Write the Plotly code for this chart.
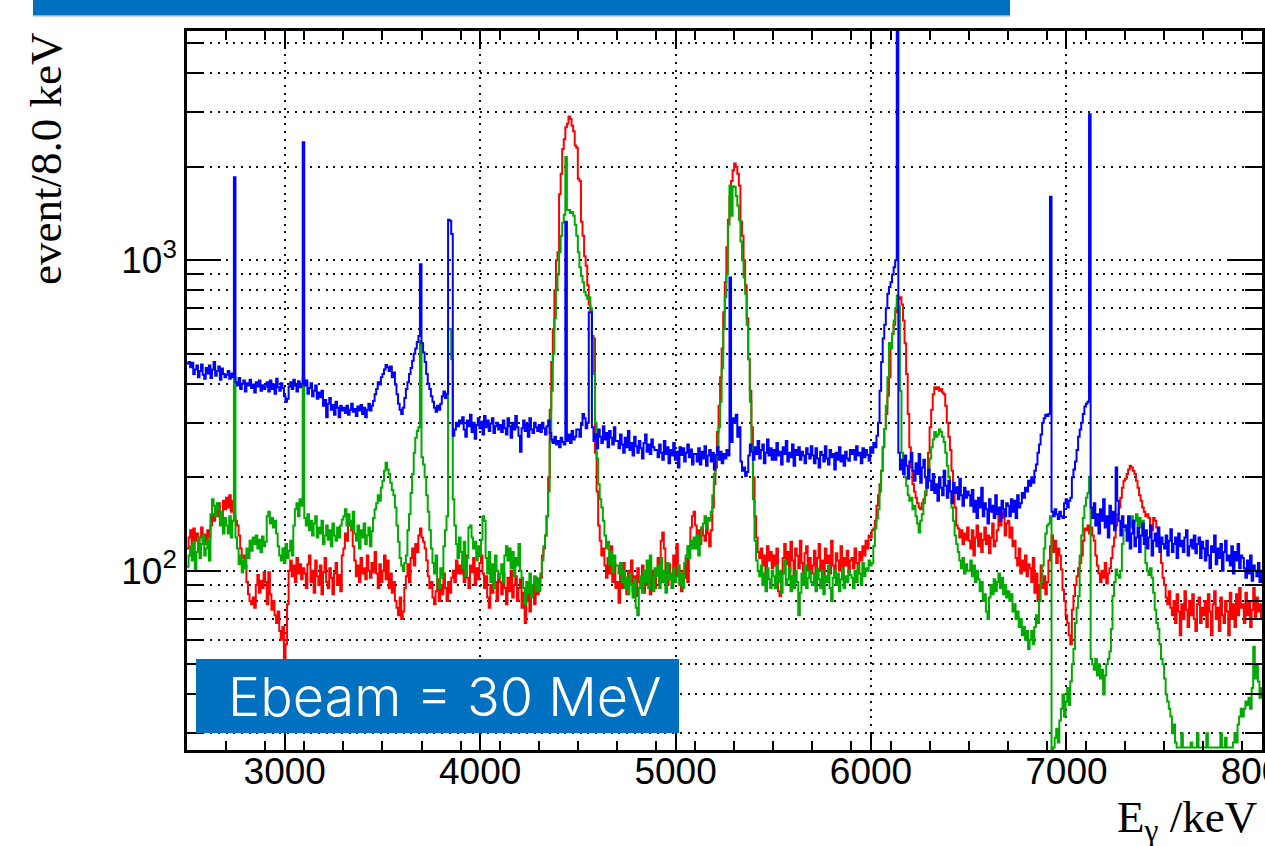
import math
import plotly.graph_objects as go

# Gamma-ray energy spectra, 8 keV bins starting at 2500 keV.
# Each row of a series holds one 200 keV stretch (25 bins).
E0 = 2500
SEG_KEV = 200
BIN_KEV = 8

blue_counts = [
    [465, 470, 452, 468, 430, 445, 458, 420, 440, 462, 428, 415, 450, 432, 458, 418, 445, 470, 425, 440, 455, 412, 448, 430, 420],
    [428, 440, 415, 432, 420, 1850, 405, 395, 418, 385, 400, 410, 378, 402, 395, 412, 388, 398, 375, 405, 392, 410, 380, 396, 385],
    [392, 405, 378, 410, 385, 398, 372, 415, 390, 380, 402, 388, 365, 350, 358, 392, 405, 385, 412, 395, 378, 408, 390, 400, 2400],
    [395, 410, 372, 388, 402, 365, 380, 395, 358, 375, 362, 380, 340, 355, 312, 345, 360, 330, 342, 318, 350, 335, 312, 340, 328],
    [335, 322, 340, 318, 330, 345, 325, 332, 315, 338, 328, 342, 320, 335, 312, 330, 345, 328, 340, 352, 370, 385, 405, 398, 420],
    [430, 445, 460, 452, 440, 455, 420, 435, 398, 370, 345, 330, 320, 335, 360, 385, 405, 430, 450, 475, 500, 520, 545, 570, 970],
    [540, 505, 470, 430, 400, 385, 365, 350, 335, 325, 340, 330, 345, 365, 378, 360, 372, 1350, 1340, 1215, 272, 285, 300, 292, 305],
    [298, 312, 285, 270, 305, 292, 318, 280, 300, 266, 295, 310, 288, 302, 275, 315, 290, 305, 282, 298, 310, 278, 292, 300, 285],
    [295, 280, 305, 288, 275, 310, 292, 268, 300, 285, 315, 290, 272, 242, 288, 305, 282, 296, 270, 310, 285, 278, 300, 290, 282],
    [295, 280, 300, 288, 275, 292, 305, 278, 265, 258, 270, 255, 262, 250, 268, 260, 255, 1330, 262, 275, 258, 282, 265, 270, 285],
    [285, 270, 295, 320, 310, 288, 300, 680, 680, 290, 262, 275, 248, 285, 270, 258, 292, 265, 278, 250, 282, 268, 255, 290, 262],
    [262, 248, 275, 255, 240, 268, 250, 282, 245, 258, 235, 270, 252, 240, 262, 248, 230, 258, 275, 242, 255, 238, 265, 250, 245],
    [245, 232, 255, 240, 228, 262, 238, 250, 222, 245, 235, 258, 228, 242, 215, 250, 236, 248, 225, 240, 255, 232, 246, 220, 238],
    [238, 225, 248, 220, 242, 230, 252, 218, 235, 245, 225, 240, 212, 236, 250, 228, 242, 222, 238, 230, 245, 235, 880, 260, 310],
    [300, 318, 270, 290, 225, 210, 215, 202, 208, 235, 255, 242, 228, 250, 238, 262, 230, 245, 255, 222, 240, 265, 235, 248, 228],
    [245, 228, 258, 235, 242, 220, 250, 238, 262, 225, 240, 232, 255, 218, 245, 236, 250, 228, 242, 235, 222, 248, 238, 230, 252],
    [235, 222, 248, 230, 215, 242, 236, 225, 252, 230, 220, 245, 232, 238, 212, 240, 228, 250, 225, 235, 218, 242, 230, 226, 245],
    [238, 245, 228, 252, 235, 240, 222, 248, 232, 245, 236, 226, 250, 240, 258, 250, 272, 300, 380, 470, 560, 620, 700, 780, 820],
    [850, 900, 950, 1000, 6500, 240, 212, 228, 205, 235, 218, 198, 225, 240, 210, 195, 222, 205, 238, 192, 215, 228, 200, 185, 212],
    [195, 182, 205, 178, 190, 168, 200, 185, 175, 210, 188, 172, 195, 180, 165, 192, 178, 186, 170, 198, 175, 162, 185, 172, 180],
    [175, 162, 182, 155, 168, 148, 172, 160, 185, 150, 165, 158, 142, 170, 155, 162, 148, 175, 152, 160, 145, 168, 158, 150, 165],
    [162, 150, 170, 155, 168, 148, 175, 160, 165, 178, 172, 185, 180, 195, 188, 200, 192, 210, 220, 240, 255, 275, 300, 310, 318],
    [315, 320, 1600, 155, 150, 158, 152, 147, 155, 150, 148, 165, 170, 160, 168, 172, 200, 212, 225, 245, 270, 285, 300, 320, 338],
    [345, 350, 2950, 160, 148, 165, 140, 152, 132, 158, 145, 170, 138, 150, 128, 162, 142, 155, 135, 215, 168, 145, 130, 150, 138],
    [140, 125, 150, 118, 132, 145, 120, 128, 138, 115, 130, 142, 122, 135, 118, 128, 140, 112, 125, 132, 120, 138, 115, 128, 122],
    [118, 130, 112, 125, 136, 115, 122, 128, 110, 132, 120, 125, 115, 128, 135, 112, 120, 126, 118, 130, 114, 122, 128, 110, 124],
    [118, 108, 125, 112, 102, 120, 115, 130, 105, 118, 110, 122, 100, 115, 125, 108, 112, 104, 120, 98, 115, 108, 122, 102, 112],
    [110, 102, 95, 108, 98, 112, 93, 104, 100, 96, 106, 92, 100],
]

red_counts = [
    [118, 128, 135, 122, 137, 125, 132, 120, 128, 138, 126, 131, 122, 135, 128, 140, 152, 145, 160, 150, 165, 155, 148, 168, 158],
    [172, 160, 175, 155, 168, 150, 145, 140, 130, 118, 110, 112, 104, 92, 84, 80, 78, 82, 76, 90, 97, 85, 93, 88, 99],
    [92, 78, 99, 84, 75, 80, 72, 68, 74, 64, 60, 66, 52, 58, 78, 100, 108, 96, 104, 92, 110, 98, 105, 94, 102],
    [98, 88, 105, 112, 92, 100, 85, 108, 96, 90, 104, 84, 99, 110, 92, 88, 102, 95, 84, 98, 106, 90, 97, 86, 112],
    [118, 132, 125, 145, 140, 135, 120, 108, 96, 104, 92, 110, 98, 102, 94, 112, 100, 95, 106, 99, 115, 98, 88, 105, 92],
    [100, 112, 94, 108, 88, 98, 85, 92, 80, 76, 72, 82, 70, 74, 88, 96, 105, 92, 110, 118, 104, 122, 115, 130, 137],
    [128, 124, 118, 108, 96, 88, 92, 82, 78, 86, 94, 80, 90, 84, 98, 88, 80, 92, 85, 95, 100, 92, 108, 98, 104],
    [98, 108, 92, 112, 95, 88, 104, 99, 110, 90, 102, 94, 106, 112, 98, 88, 96, 82, 76, 90, 85, 100, 92, 80, 96],
    [92, 84, 98, 88, 78, 95, 86, 100, 82, 90, 96, 80, 88, 94, 76, 85, 68, 80, 92, 74, 86, 90, 78, 95, 84],
    [88, 95, 112, 118, 130, 150, 200, 330, 470, 600, 800, 1000, 1060, 1630, 1900, 2280, 2450, 2680, 2750, 2900, 2850, 2710, 2600, 2340, 2300],
    [1830, 1800, 1330, 1200, 1030, 960, 830, 720, 680, 570, 560, 240, 180, 140, 125, 112, 118, 104, 95, 110, 98, 120, 92, 105, 88],
    [92, 79, 98, 88, 106, 95, 84, 100, 90, 108, 86, 96, 83, 102, 92, 88, 104, 85, 97, 90, 106, 84, 95, 100, 88],
    [98, 110, 92, 125, 133, 118, 100, 90, 105, 94, 88, 112, 96, 122, 104, 90, 86, 100, 95, 110, 92, 120, 138, 150, 155],
    [140, 128, 135, 122, 138, 130, 125, 142, 132, 120, 135, 160, 190, 215, 280, 340, 420, 520, 680, 850, 1100, 1350, 1600, 1800, 1950],
    [2050, 2000, 1900, 1740, 1330, 1200, 1000, 830, 650, 480, 380, 290, 200, 150, 128, 115, 110, 118, 104, 112, 98, 120, 108, 115, 102],
    [112, 104, 118, 86, 83, 98, 110, 122, 105, 115, 100, 124, 108, 96, 118, 112, 102, 125, 106, 95, 114, 120, 100, 110, 98],
    [104, 116, 98, 110, 122, 100, 108, 95, 118, 106, 112, 98, 125, 104, 96, 114, 108, 100, 120, 94, 110, 104, 116, 99, 108],
    [110, 102, 118, 106, 98, 115, 108, 120, 112, 125, 118, 130, 128, 135, 137, 145, 162, 175, 190, 210, 250, 286, 320, 366, 420],
    [540, 580, 620, 680, 720, 750, 760, 720, 640, 540, 430, 320, 250, 215, 190, 180, 172, 165, 160, 158, 165, 170, 175, 200, 240],
    [290, 330, 370, 390, 385, 390, 380, 385, 375, 370, 340, 300, 270, 245, 210, 180, 160, 140, 137, 128, 135, 122, 132, 126, 138],
    [125, 118, 135, 112, 128, 140, 120, 132, 115, 126, 138, 122, 130, 114, 128, 142, 120, 125, 135, 150, 140, 155, 148, 130, 142],
    [145, 128, 138, 120, 125, 110, 104, 118, 98, 108, 100, 112, 96, 105, 102, 92, 110, 85, 98, 80, 90, 104, 88, 96, 84],
    [92, 108, 120, 130, 115, 125, 106, 118, 112, 101, 87, 80, 72, 68, 62, 58, 75, 83, 90, 96, 102, 106, 112, 125, 137],
    [135, 140, 132, 138, 130, 125, 112, 104, 98, 92, 100, 95, 106, 91, 98, 102, 110, 120, 128, 140, 152, 160, 172, 185, 195],
    [198, 205, 212, 218, 215, 210, 205, 195, 185, 175, 168, 160, 155, 150, 152, 148, 140, 135, 148, 145, 138, 130, 118, 106, 95],
    [90, 82, 78, 86, 76, 72, 80, 68, 84, 74, 62, 78, 70, 86, 75, 66, 80, 72, 84, 70, 64, 78, 82, 68, 76],
    [72, 80, 66, 84, 74, 62, 78, 86, 70, 76, 64, 82, 72, 68, 80, 74, 62, 85, 70, 78, 66, 84, 72, 88, 76],
    [78, 68, 85, 72, 80, 66, 75, 88, 70, 82, 74, 78, 70],
]

green_counts = [
    [103, 112, 120, 108, 124, 101, 115, 128, 110, 122, 130, 112, 118, 126, 108, 152, 170, 162, 150, 165, 158, 140, 155, 132, 148],
    [140, 132, 150, 128, 145, 420, 128, 118, 105, 112, 99, 108, 102, 118, 110, 125, 116, 128, 122, 130, 118, 126, 115, 129, 120],
    [124, 150, 155, 142, 148, 138, 145, 132, 120, 112, 108, 118, 106, 122, 110, 116, 125, 112, 140, 158, 165, 150, 170, 162, 420],
    [148, 140, 152, 135, 145, 130, 142, 150, 128, 138, 132, 145, 122, 130, 140, 126, 135, 120, 142, 130, 125, 138, 128, 140, 146],
    [150, 158, 140, 152, 145, 137, 155, 132, 125, 140, 118, 135, 128, 142, 122, 130, 138, 120, 134, 148, 158, 165, 175, 168, 185],
    [195, 210, 223, 212, 205, 192, 182, 175, 160, 140, 124, 110, 104, 100, 106, 112, 135, 152, 178, 205, 240, 268, 282, 290, 550],
    [232, 220, 200, 175, 155, 135, 118, 106, 98, 112, 92, 88, 102, 95, 120, 135, 150, 600, 600, 480, 170, 140, 122, 110, 128],
    [115, 102, 124, 96, 110, 138, 140, 128, 118, 124, 108, 120, 112, 126, 150, 145, 110, 98, 115, 92, 105, 88, 112, 100, 95],
    [98, 105, 92, 112, 120, 108, 118, 102, 115, 96, 110, 104, 122, 100, 95, 88, 78, 92, 85, 98, 82, 90, 96, 86, 94],
    [86, 98, 108, 120, 130, 150, 180, 260, 380, 500, 650, 800, 900, 1060, 1200, 1320, 1400, 2150, 1450, 1450, 1420, 1430, 1390, 1300, 1200],
    [1060, 950, 890, 850, 790, 770, 750, 760, 700, 560, 430, 300, 230, 190, 170, 160, 145, 130, 118, 124, 105, 115, 99, 112, 104],
    [104, 98, 106, 92, 100, 88, 95, 84, 98, 90, 82, 94, 76, 72, 88, 96, 85, 100, 92, 108, 88, 112, 95, 86, 102],
    [96, 104, 88, 110, 92, 100, 85, 106, 94, 98, 88, 102, 92, 96, 104, 90, 98, 88, 106, 112, 120, 110, 125, 118, 128],
    [118, 130, 112, 125, 138, 142, 150, 137, 148, 145, 155, 175, 205, 230, 250, 290, 350, 450, 600, 760, 900, 1300, 1740, 1390, 1730],
    [1720, 1610, 1500, 1350, 1150, 1000, 880, 780, 620, 480, 350, 250, 170, 125, 108, 100, 96, 104, 90, 98, 86, 102, 94, 88, 100],
    [96, 88, 104, 92, 100, 85, 98, 108, 90, 94, 102, 86, 96, 88, 100, 92, 72, 85, 98, 90, 104, 88, 95, 100, 92],
    [90, 98, 86, 102, 94, 88, 100, 84, 96, 92, 104, 88, 80, 95, 100, 90, 98, 86, 94, 102, 88, 96, 92, 100, 97],
    [95, 88, 100, 92, 104, 98, 90, 106, 96, 102, 100, 108, 104, 106, 120, 137, 148, 158, 180, 210, 250, 286, 340, 420, 540],
    [520, 580, 640, 700, 770, 710, 380, 240, 215, 200, 188, 175, 168, 172, 158, 162, 150, 142, 133, 145, 152, 165, 180, 195, 210],
    [230, 250, 265, 280, 270, 275, 285, 280, 270, 260, 240, 218, 200, 180, 160, 145, 130, 122, 115, 108, 102, 110, 98, 105, 100],
    [100, 108, 96, 104, 92, 100, 94, 86, 92, 80, 84, 74, 70, 82, 90, 84, 94, 86, 92, 98, 88, 95, 84, 90, 82],
    [86, 80, 84, 74, 78, 70, 74, 66, 70, 62, 66, 60, 64, 56, 60, 64, 58, 66, 72, 68, 80, 92, 104, 118, 132],
    [140, 142, 150, 22, 27, 29, 31, 28, 33, 36, 40, 34, 38, 42, 37, 44, 50, 56, 68, 76, 83, 112, 130, 148, 162],
    [172, 178, 200, 52, 50, 48, 52, 46, 50, 45, 48, 40, 46, 50, 52, 55, 65, 83, 92, 101, 97, 95, 100, 122, 135],
    [135, 140, 148, 138, 150, 142, 145, 152, 140, 148, 138, 145, 132, 106, 100, 97, 102, 95, 85, 75, 68, 65, 58, 52, 50],
    [45, 40, 38, 36, 34, 30, 32, 28, 27, 27, 27, 30, 27, 27, 27, 27, 27, 28, 27, 27, 27, 30, 27, 27, 27],
    [27, 27, 30, 27, 27, 27, 27, 27, 27, 27, 27, 30, 27, 27, 29, 27, 27, 27, 27, 28, 30, 28, 32, 34, 36],
    [34, 36, 38, 37, 39, 36, 42, 57, 45, 50, 44, 39, 42],
]

x_tick_values = [3000, 4000, 5000, 6000, 7000, 8000]
y_major_values = [100, 1000]
y_major_labels = ["10<sup>2</sup>", "10<sup>3</sup>"]
y_minor_values = [30, 40, 50, 60, 70, 80, 90,
                  200, 300, 400, 500, 600, 700, 800, 900,
                  2000, 3000, 4000, 5000]


def step_points(segments):
    """Bin low edges and contents, plus a closing edge, for an 'hv' step line."""
    xs, ys = [], []
    for k, seg in enumerate(segments):
        for j, v in enumerate(seg):
            xs.append(E0 + SEG_KEV * k + BIN_KEV * j)
            ys.append(v)
    xs.append(xs[-1] + BIN_KEV)
    ys.append(ys[-1])
    return xs, ys


W, H = 1265, 846
ML, MR, MT, MB = 187, 3, 31, 96
PW, PH = W - ML - MR, H - MT - MB


def fx(px):
    return (px - ML) / PW


def fy(py):
    return (H - MB - py) / PH


fig = go.Figure()
for segs, colour in ((red_counts, "#ff0000"), (green_counts, "#00aa00"), (blue_counts, "#0000ff")):
    xs, ys = step_points(segs)
    fig.add_trace(go.Scatter(x=xs, y=ys, mode="lines", line=dict(color=colour, width=2, shape="hv"),
                             hoverinfo="skip", showlegend=False))

DOTS = "2px,5.7px"
tick_font = dict(family="Liberation Sans, Arial, sans-serif", size=37, color="black")

fig.update_xaxes(
    range=[2500, 8001], automargin=False, showline=True, linecolor="black", linewidth=2.5,
    mirror="allticks", ticks="inside", ticklen=18, tickwidth=2, tickcolor="black",
    tickmode="array", tickvals=x_tick_values, ticktext=[str(v) for v in x_tick_values],
    tickfont=tick_font, ticklabelstandoff=-13, ticklabeloverflow="allow",
    showgrid=True, gridcolor="#111111", gridwidth=1.8, griddash=DOTS,
    minor=dict(ticks="inside", ticklen=9, tickwidth=2, tickcolor="black", dtick=200, tick0=2500,
               showgrid=False),
    zeroline=False,
)
fig.update_yaxes(
    type="log", range=[math.log10(26.5), math.log10(5470)], automargin=False, showline=True,
    linecolor="black", linewidth=2.5, mirror="allticks",
    ticks="inside", ticklen=34, tickwidth=2, tickcolor="black",
    tickmode="array", tickvals=y_major_values, ticktext=y_major_labels,
    tickfont=tick_font, showgrid=True, gridcolor="#111111", gridwidth=1.8, griddash=DOTS,
    minor=dict(ticks="inside", ticklen=17, tickwidth=2, tickcolor="black", tickmode="array",
               tickvals=y_minor_values, showgrid=True, gridcolor="#111111", gridwidth=1.8,
               griddash=DOTS),
    zeroline=False,
)

BANNER = "#0070c0"
shapes = [
    dict(type="rect", xref="paper", yref="paper", x0=fx(33), x1=fx(1010), y0=fy(15), y1=fy(0),
         fillcolor=BANNER, line=dict(width=0), layer="above"),
    dict(type="rect", xref="paper", yref="paper", x0=fx(33), x1=fx(1010), y0=fy(16.5), y1=fy(15),
         fillcolor="#7fb3e3", line=dict(width=0), layer="above"),
    dict(type="rect", xref="paper", yref="paper", x0=fx(196), x1=fx(679), y0=fy(733), y1=fy(659),
         fillcolor=BANNER, line=dict(width=0), layer="above"),
]

annotations = [
    dict(text="Ebeam = 30 MeV", xref="paper", yref="paper", x=fx(445), y=fy(696),
         xanchor="center", yanchor="middle", showarrow=False,
         font=dict(family="Inter, Lato, sans-serif", size=54, color="white", weight=300)),
    dict(text="event/8.0 keV", xref="paper", yref="paper", x=fx(46), y=fy(159),
         xanchor="center", yanchor="middle", textangle=-90, showarrow=False,
         font=dict(family="Liberation Serif, Times New Roman, serif", size=45, color="black")),
    dict(text="E<sub>γ</sub> /keV", xref="paper", yref="paper", x=fx(1259), y=fy(820),
         xanchor="right", yanchor="middle", showarrow=False,
         font=dict(family="Liberation Serif, Times New Roman, serif", size=45, color="black")),
]

fig.update_layout(
    width=W, height=H, autosize=False,
    margin=dict(l=ML, r=MR, t=MT, b=MB, pad=0, autoexpand=False),
    plot_bgcolor="white", paper_bgcolor="white",
    shapes=shapes, annotations=annotations, showlegend=False,
)

fig.write_html("out.html")
